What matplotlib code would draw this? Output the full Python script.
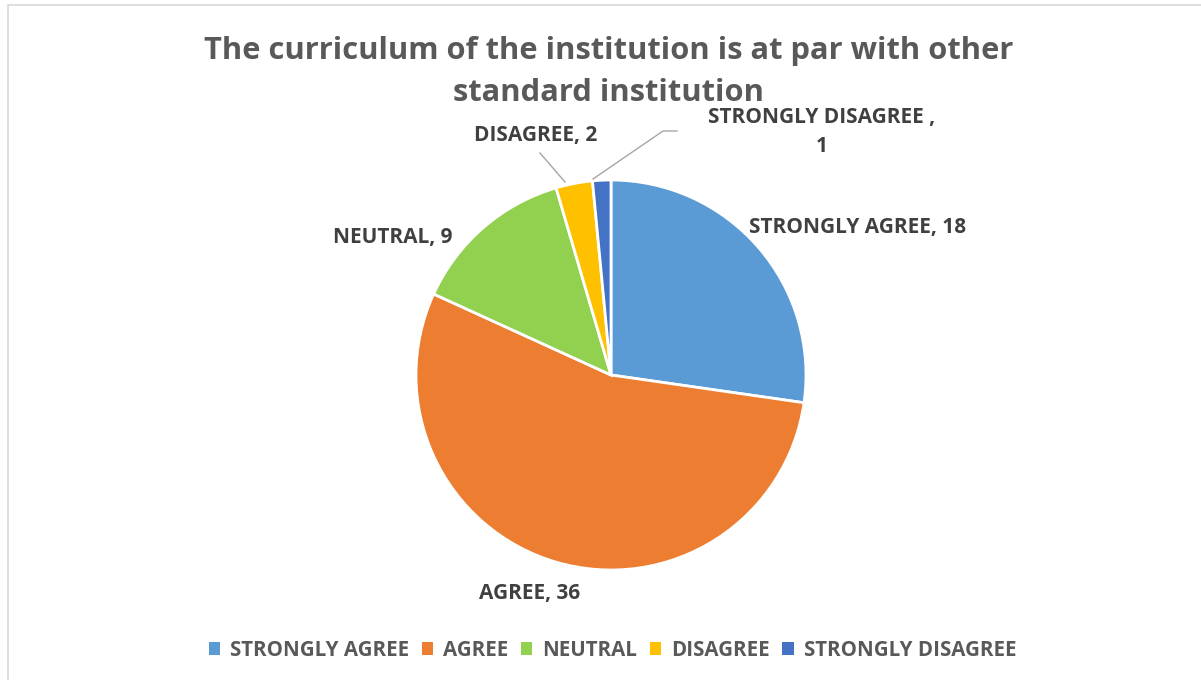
import matplotlib.pyplot as plt
from matplotlib.patches import Patch, Rectangle

categories = ['STRONGLY AGREE', 'AGREE', 'NEUTRAL', 'DISAGREE', 'STRONGLY DISAGREE']
counts = [18, 36, 9, 2, 1]
colors = ['#5B9BD5', '#ED7D31', '#92D050', '#FFC000', '#4472C4']

plt.rcParams['font.family'] = ['Open Sans', 'DejaVu Sans']

W, H = 1201, 680
fig = plt.figure(figsize=(W / 100, H / 100), dpi=100)

# pie centre / radius in pixels
cx, cy, r = 611, 375, 195
ax = fig.add_axes([(cx - r) / W, (H - cy - r) / H, 2 * r / W, 2 * r / H])
ax.pie(counts, colors=colors, startangle=90, counterclock=False, radius=1,
       wedgeprops=dict(edgecolor='white', linewidth=2))
ax.set_xlim(-1, 1)
ax.set_ylim(-1, 1)
ax.set_aspect('equal')
ax.axis('off')


def px(x, y):
    return (x - cx) / r, (cy - y) / r


lab_kw = dict(fontsize=15, fontweight='bold', color='#404040',
              ha='center', va='center', clip_on=False)
ax.text(*px(858, 228), f'{categories[0]}, {counts[0]}', **lab_kw)
ax.text(*px(530, 593), f'{categories[1]}, {counts[1]}', **lab_kw)
ax.text(*px(393, 238), f'{categories[2]}, {counts[2]}', **lab_kw)
ax.text(*px(536, 135), f'{categories[3]}, {counts[3]}', **lab_kw)
ax.text(*px(822, 117), f'{categories[4]} ,', **lab_kw)
ax.text(*px(822, 147), f'{counts[4]}', **lab_kw)

# leader lines
xs, ys = zip(px(540, 153), px(565, 182))
ax.plot(xs, ys, color='#A6A6A6', lw=1, clip_on=False)
xs, ys = zip(px(593, 179), px(663, 131), px(677, 131))
ax.plot(xs, ys, color='#A6A6A6', lw=1, clip_on=False)

fig.text(0.507, 1 - 72 / H, 'The curriculum of the institution is at par with other\nstandard institution',
         ha='center', va='center', fontsize=22.2, fontweight='bold', color='#595959',
         linespacing=1.55)

handles = [Patch(facecolor=c, edgecolor='none') for c in colors]
fig.legend(handles, categories, loc='center', bbox_to_anchor=(0.51, 1 - 650 / H),
           ncol=5, frameon=False, handlelength=0.55, handleheight=0.6,
           handletextpad=0.5, columnspacing=0.6,
           prop=dict(family='Open Sans', weight='bold', size=14.8), labelcolor='#595959')

# outer chart frame
fig.patches.append(Rectangle((8 / W, -0.01), 1.2, (H - 5) / H + 0.01, transform=fig.transFigure,
                             fill=False, edgecolor='#D9D9D9', linewidth=1.2))

fig.savefig('out.png', dpi=100, facecolor='white')
